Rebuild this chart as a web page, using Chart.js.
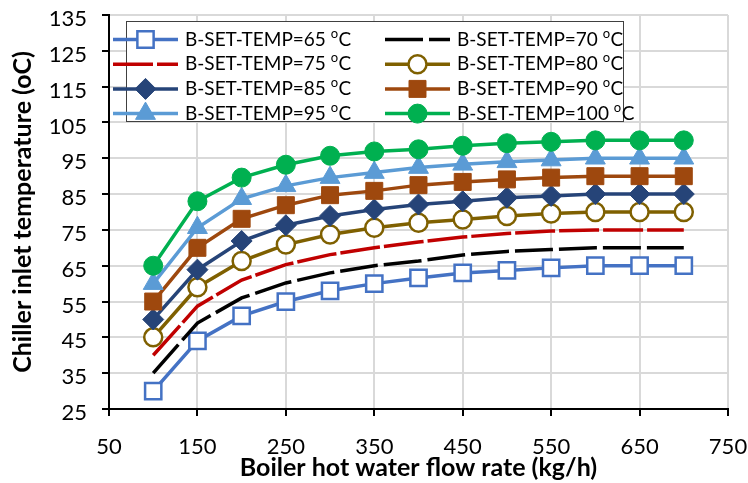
<!DOCTYPE html>
<html>
<head>
<meta charset="utf-8">
<script src="https://cdn.jsdelivr.net/npm/chart.js@4.4.1/dist/chart.umd.min.js"></script>
<style>
    body { margin: 0; background: #fff; }
    #chart_container { width: 748px; height: 483px; position: relative; }
</style>
</head>
<body>
<div id="chart_container">
    <canvas id="chiller_chart"></canvas>
</div>
<script>
    // boiler hot water flow rate (kg/h)
    const flowRates = [100, 150, 200, 250, 300, 350, 400, 450, 500, 550, 600, 650, 700];
    // boiler set temperatures, one series each
    const setTemps = [65, 70, 75, 80, 85, 90, 95, 100];

    // chiller inlet temperature (oC) per set temperature
    const temp65  = [30, 44, 51, 55, 58, 60, 61.6, 63, 63.7, 64.4, 65, 65, 65];
    const temp70  = [35, 49, 56, 60.2, 63, 65, 66.3, 68, 69, 69.5, 70, 70, 70];
    const temp75  = [40, 53.7, 61, 65.3, 68.1, 70, 71.6, 73, 74, 74.7, 75, 75, 75];
    const temp80  = [45, 59, 66.3, 70.9, 73.7, 75.6, 77, 77.9, 78.9, 79.6, 80, 80, 80];
    const temp85  = [50, 63.9, 71.9, 76.3, 78.9, 80.7, 82.1, 83, 84, 84.5, 85, 85, 85];
    const temp90  = [55, 70, 78.1, 81.9, 84.7, 85.9, 87.5, 88.4, 89.1, 89.6, 90, 90, 90];
    const temp95  = [60, 75.6, 83.7, 87.3, 89.6, 91, 92.4, 93.3, 94, 94.5, 95, 95, 95];
    const temp100 = [65, 83, 89.6, 93.2, 95.7, 96.9, 97.5, 98.5, 99.2, 99.6, 100, 100, 100];
    const seriesValues = [temp65, temp70, temp75, temp80, temp85, temp90, temp95, temp100];

    // axis ticks
    const xTicks = [50, 150, 250, 350, 450, 550, 650, 750];
    const yTicks = [25, 35, 45, 55, 65, 75, 85, 95, 105, 115, 125, 135];

    const styles = [
        { color: '#4472C4', point: 'rect',     radius: 11.5, fill: '#ffffff', bw: 2.5, dash: [] },
        { color: '#000000', point: false,      radius: 0,    fill: '#000000', bw: 0,   dash: [38, 6] },
        { color: '#C00000', point: false,      radius: 0,    fill: '#C00000', bw: 0,   dash: [40, 4] },
        { color: '#7F6000', point: 'circle',   radius: 9,    fill: '#ffffff', bw: 2.5, dash: [] },
        { color: '#264478', point: 'rectRot',  radius: 10.5, fill: '#264478', bw: 1,   dash: [] },
        { color: '#9E480E', point: 'rect',     radius: 12,   fill: '#9E480E', bw: 1,   dash: [] },
        { color: '#5B9BD5', point: 'triangle', radius: 11.5, fill: '#5B9BD5', bw: 1,   dash: [] },
        { color: '#00B050', point: 'circle',   radius: 9.5,  fill: '#00B050', bw: 1,   dash: [] },
    ];

    Chart.defaults.font.family = 'Lato';
    Chart.defaults.color = '#000';

    const datasets = seriesValues.map((vals, i) => ({
        label: 'B-SET-TEMP=' + setTemps[i],
        data: vals.map((v, j) => ({ x: flowRates[j], y: v })),
        borderColor: styles[i].color,
        borderWidth: 3.5,
        borderDash: styles[i].dash,
        pointStyle: styles[i].point,
        pointRadius: styles[i].radius,
        pointBackgroundColor: styles[i].fill,
        pointBorderColor: styles[i].color,
        pointBorderWidth: styles[i].bw,
        tension: 0,
        order: seriesValues.length - i,
    }));

    // legend drawn in a framed box inside the plot, two columns
    const legendBox = {
        id: 'legendBox',
        afterDatasetsDraw(chart) {
            const ctx = chart.ctx;
            const area = chart.chartArea;
            const left = area.left + 17, top = area.top + 6;
            ctx.save();
            ctx.fillStyle = '#fff';
            ctx.fillRect(left, top, 497, 100);
            ctx.strokeStyle = '#404040';
            ctx.lineWidth = 1;
            ctx.strokeRect(left + 0.5, top + 0.5, 497, 100);
            chart.data.datasets.forEach((ds, i) => {
                const st = styles[i];
                const col = i % 2, row = Math.floor(i / 2);
                const y = top + 18.5 + row * 24.7;
                const x0 = col ? left + 259 : left - 13;
                const x1 = x0 + 65;
                ctx.strokeStyle = st.color;
                ctx.lineWidth = 3.5;
                ctx.setLineDash(st.dash);
                ctx.beginPath();
                ctx.moveTo(x0, y);
                ctx.lineTo(x1, y);
                ctx.stroke();
                ctx.setLineDash([]);
                if (st.point) {
                    ctx.fillStyle = st.fill;
                    ctx.lineWidth = st.bw;
                    Chart.helpers.drawPoint(ctx, { pointStyle: st.point, radius: st.radius, rotation: 0, borderWidth: st.bw }, (x0 + x1) / 2, y);
                }
                const tx = x1 + 7;
                ctx.fillStyle = '#000';
                ctx.textBaseline = 'middle';
                ctx.font = '19px Lato';
                const main = ds.label + ' ';
                ctx.fillText(main, tx, y);
                let w = ctx.measureText(main).width;
                ctx.font = '13px Lato';
                ctx.fillText('o', tx + w, y - 6);
                w += ctx.measureText('o').width;
                ctx.font = '19px Lato';
                ctx.fillText('C', tx + w + 0.5, y);
            });
            ctx.restore();
        }
    };

    new Chart(document.getElementById('chiller_chart'), {
        type: 'line',
        data: { datasets: datasets },
        plugins: [legendBox],
        options: {
            responsive: true,
            maintainAspectRatio: false,
            animation: false,
            layout: { padding: { top: 15, right: 20, left: 0, bottom: 0 } },
            plugins: {
                legend: { display: false },
                tooltip: { enabled: false },
            },
            scales: {
                x: {
                    type: 'linear',
                    min: xTicks[0],
                    max: xTicks[xTicks.length - 1],
                    afterBuildTicks: (scale) => { scale.ticks = xTicks.map(v => ({ value: v })); },
                    afterFit: (scale) => {
                        scale.height = 74;
                        scale.paddingLeft = 0;
                        scale.paddingRight = 0;
                    },
                    grid: { color: '#d9d9d9', lineWidth: 2, tickColor: '#000', tickWidth: 2, tickLength: 7 },
                    border: { color: '#000', width: 2 },
                    ticks: { font: { size: 22 }, padding: 18, maxRotation: 0 },
                    title: {
                        display: true,
                        text: 'Boiler hot water flow rate (kg/h)',
                        font: { size: 25, weight: 'bold' },
                        padding: { top: 0, bottom: 0 },
                    },
                },
                y: {
                    type: 'linear',
                    min: yTicks[0],
                    max: yTicks[yTicks.length - 1],
                    afterBuildTicks: (scale) => { scale.ticks = yTicks.map(v => ({ value: v })); },
                    afterFit: (scale) => {
                        scale.width = 109;
                        scale.paddingTop = 0;
                        scale.paddingBottom = 0;
                    },
                    grid: { color: '#d9d9d9', lineWidth: 2, tickColor: '#000', tickWidth: 2, tickLength: 7 },
                    border: { color: '#000', width: 2 },
                    ticks: { font: { size: 22 }, padding: 15, labelOffset: 4 },
                    title: {
                        display: true,
                        text: 'Chiller inlet temperature (oC)',
                        font: { size: 25, weight: 'bold' },
                        padding: { top: 8, bottom: 0 },
                    },
                },
            },
        },
    });
</script>
</body>
</html>
